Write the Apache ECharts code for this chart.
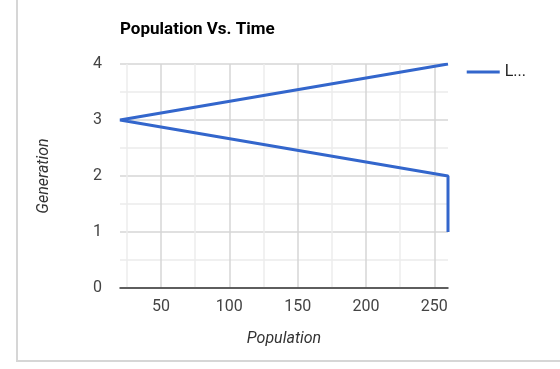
<!DOCTYPE html>
<html>
<head>
<meta charset="utf-8">
<script src="https://cdn.jsdelivr.net/npm/echarts@6/dist/echarts.min.js"></script>
<style>
html,body{margin:0;padding:0;background:#fff;}
#chart{width:560px;height:369px;}
</style>
</head>
<body>
<div id="chart"></div>
<script>
const titleText = 'Population Vs. Time';
const seriesName = 'L...';
const population = [260, 260, 20, 260];
const generation = [1, 2, 3, 4];
const xTickValues = [50, 100, 150, 200, 250];
const xGridValues = [25, 50, 75, 100, 125, 150, 175, 200, 225, 250];
const xMin = 20, xMax = 260;
const yMin = 0, yMax = 4;

const chart = echarts.init(document.getElementById('chart'), null, {renderer: 'canvas'});
const font = 'Roboto';
chart.setOption({
  animation: false,
  textStyle: {fontFamily: font},
  title: {
    text: titleText, left: 115, top: 16,
    textStyle: {fontFamily: font, fontSize: 17, fontWeight: 'bold', color: '#000'}
  },
  legend: {
    right: 29, top: 59, icon: 'rect', itemWidth: 33, itemHeight: 3, itemGap: 8,
    textStyle: {fontFamily: font, fontSize: 16, color: '#222'},
    data: [seriesName]
  },
  graphic: [{
    type: 'polyline', silent: true,
    shape: {points: [[17, -5], [17, 361], [570, 361]]},
    style: {stroke: '#d6d6d6', lineWidth: 2, fill: null}
  }],
  grid: {left: 120, right: 112, top: 64, bottom: 81},
  xAxis: {
    type: 'value', min: xMin, max: xMax,
    name: 'Population', nameLocation: 'middle', nameGap: 43,
    nameTextStyle: {fontFamily: font, fontSize: 16, fontStyle: 'italic', color: '#333'},
    axisLine: {show: true, onZero: false, lineStyle: {color: '#333', width: 1.5}},
    axisTick: {show: false, customValues: xGridValues},
    axisLabel: {customValues: xTickValues, fontFamily: font, fontSize: 16, color: '#444', margin: 11},
    splitLine: {show: true, lineStyle: {color: ['#ececec', '#d6d6d6'], width: 1.5}}
  },
  yAxis: {
    type: 'value', min: yMin, max: yMax, interval: 1,
    name: 'Generation', nameLocation: 'middle', nameGap: 68,
    nameTextStyle: {fontFamily: font, fontSize: 16, fontStyle: 'italic', color: '#333'},
    axisLine: {show: false}, axisTick: {show: false},
    axisLabel: {fontFamily: font, fontSize: 16, color: '#444', margin: 18},
    splitLine: {show: true, lineStyle: {color: '#d6d6d6', width: 1.5}},
    minorTick: {show: false, splitNumber: 2},
    minorSplitLine: {show: true, lineStyle: {color: '#ececec', width: 1.5}}
  },
  series: [{
    name: seriesName, type: 'line',
    data: population.map((p, i) => [p, generation[i]]),
    showSymbol: false, symbol: 'none',
    lineStyle: {color: '#3366cc', width: 3},
    itemStyle: {color: '#3366cc'}
  }]
});
</script>
</body>
</html>
